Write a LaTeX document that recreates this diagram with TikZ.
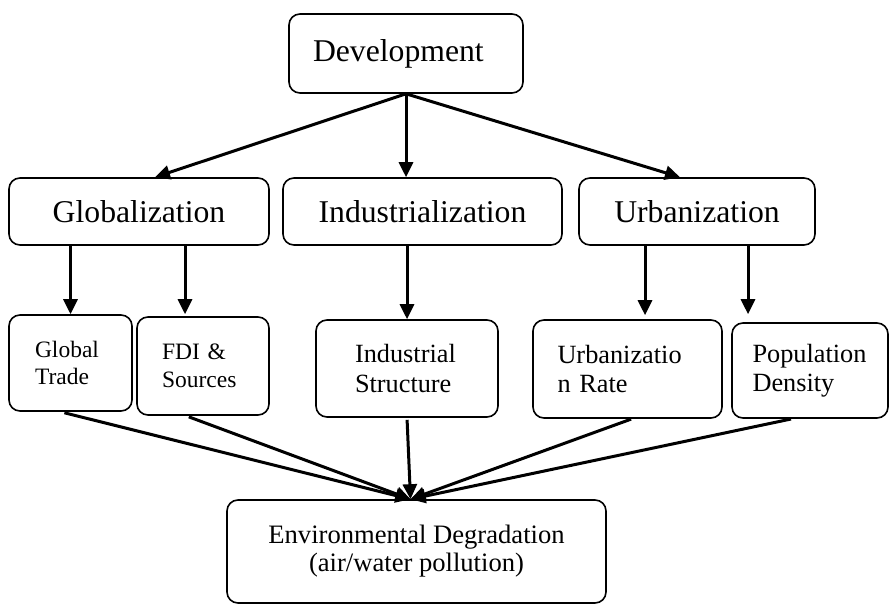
\documentclass[tikz,border=0pt]{standalone}
\usepackage{fontspec}
\setmainfont{Liberation Serif}
\usepackage{tikz}
\usetikzlibrary{arrows.meta,calc}

\tikzset{
  box/.style={draw, line width=1.6pt, rounded corners=11pt, inner sep=0pt},
  bigbox/.style={box, minimum height=67pt, font=\fontsize{31.7}{38}\selectfont},
  smallbox/.style={box, align=left, font=\fontsize{26.3}{29.5}\selectfont},
  tinybox/.style={box, align=left, font=\fontsize{23.5}{27.5}\selectfont},
  flow/.style={line width=3pt, -{Triangle[length=15pt,width=14pt]}},
}

\begin{document}
\begin{tikzpicture}[x=1pt,y=1pt,yscale=-1,xscale=1]
\useasboundingbox (0,0) rectangle (890,604);

% Top node
\node [bigbox, align=left, text width=186pt, minimum width=234pt, minimum height=79pt] (dev) at (406,53.5) {Development};

% Middle row
\node [bigbox, minimum width=260pt] (glob) at (139,211.5) {Globalization};
\node [bigbox, minimum width=279pt] (indz) at (422.5,211.5) {Industrialization};
\node [bigbox, minimum width=236pt] (urb) at (697,211.5) {Urbanization};

% Bottom row
\node [tinybox, text width=71pt, minimum width=123pt, minimum height=96pt] (gtrade) at (70.5,363) {Global\\Trade};
\node [tinybox, text width=82pt, minimum width=132pt, minimum height=98pt] (fdi) at (203,366) {FDI \&\\Sources};
\node [smallbox, text width=104pt, minimum width=182pt, minimum height=97pt] (ist) at (407,368.5) {Industrial\\Structure};
\node [smallbox, text width=140pt, minimum width=189pt, minimum height=98pt] (urate) at (627.5,369) {Urbanizatio\\n Rate};
\node [smallbox, text width=115pt, minimum width=156pt, minimum height=95pt] (pop) at (810,370.5) {Population\\Density};

% Outcome
\node [box, align=center, minimum width=379pt, minimum height=103pt,
       font=\fontsize{26.6}{28}\selectfont] (env) at (416.5,551.5)
      {Environmental Degradation\\(air/water pollution)};

%Straight Lines from Development
\draw [flow] (dev.south) -- ([xshift=16pt]glob.north);
\draw [flow] (dev.south) -- (dev.south |- indz.north);
\draw [flow] (dev.south) -- ([xshift=-17pt]urb.north);

%Straight Lines to the drivers
\draw [flow] (glob.south -| gtrade.north) -- (gtrade.north);
\draw [flow, shorten >=2pt] ([xshift=-18pt]fdi.north |- glob.south) -- ([xshift=-18pt]fdi.north);
\draw [flow] (indz.south -| ist.north) -- (ist.north);
\draw [flow, shorten >=4pt] ([xshift=-52pt]urb.south) -- ([xshift=-52pt]urb.south |- urate.north);
\draw [flow, shorten >=8pt] ([xshift=51pt]urb.south) -- ([xshift=51pt]urb.south |- pop.north);

%Straight Lines to Environmental Degradation
\coordinate (meet) at ([xshift=-6pt]env.north);
\draw [flow, shorten <=4pt] ([xshift=-10pt]gtrade.south) -- (meet);
\draw [flow, shorten <=3pt] ([xshift=-17pt]fdi.south) -- (meet);
\draw [flow, shorten <=2pt] (ist.south) -- (meet);
\draw [flow, shorten <=1pt] ([xshift=4.5pt]urate.south) -- (meet);
\draw [flow, shorten <=1pt] ([xshift=-18pt]pop.south) -- (meet);

\end{tikzpicture}
\end{document}
